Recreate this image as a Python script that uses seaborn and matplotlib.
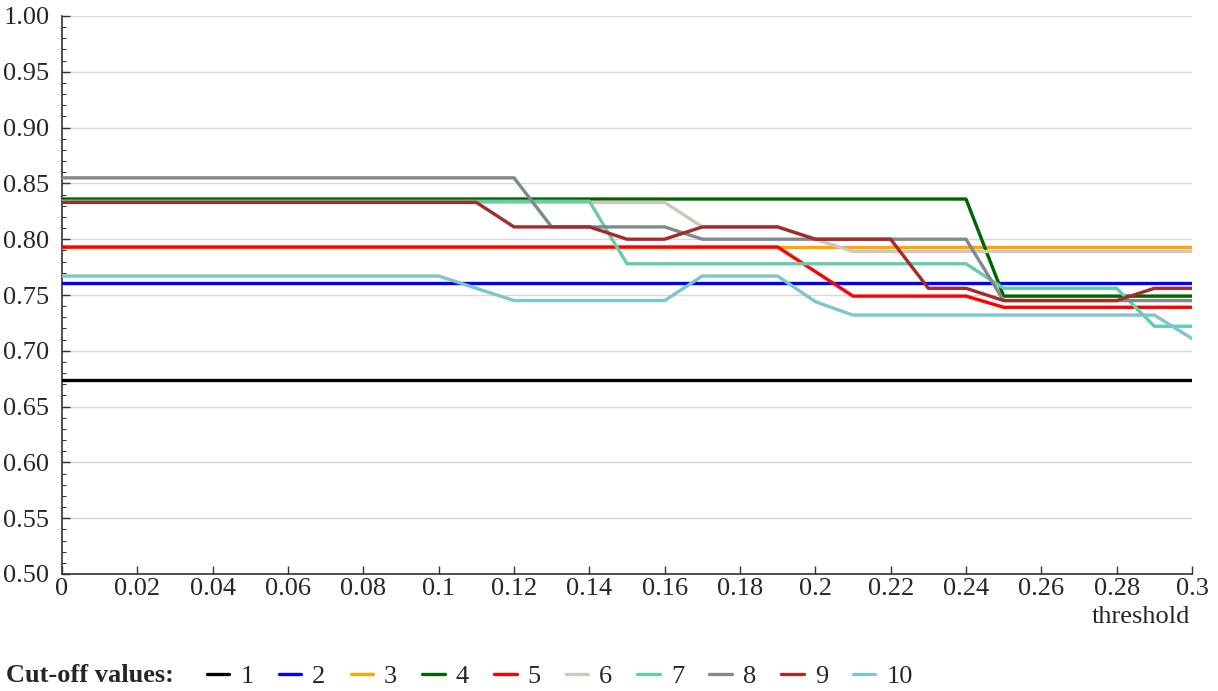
import matplotlib
matplotlib.use("Agg")
import matplotlib.pyplot as plt
import seaborn as sns
import pandas as pd
from matplotlib.ticker import MultipleLocator, FuncFormatter
from matplotlib.lines import Line2D

thresholds = [0.00, 0.01, 0.02, 0.03, 0.04, 0.05, 0.06, 0.07, 0.08, 0.09,
              0.10, 0.11, 0.12, 0.13, 0.14, 0.15, 0.16, 0.17, 0.18, 0.19,
              0.20, 0.21, 0.22, 0.23, 0.24, 0.25, 0.26, 0.27, 0.28, 0.29, 0.30]

cut1 = [0.674, 0.674, 0.674, 0.674, 0.674, 0.674, 0.674, 0.674, 0.674, 0.674,
        0.674, 0.674, 0.674, 0.674, 0.674, 0.674, 0.674, 0.674, 0.674, 0.674,
        0.674, 0.674, 0.674, 0.674, 0.674, 0.674, 0.674, 0.674, 0.674, 0.674, 0.674]
cut2 = [0.761, 0.761, 0.761, 0.761, 0.761, 0.761, 0.761, 0.761, 0.761, 0.761,
        0.761, 0.761, 0.761, 0.761, 0.761, 0.761, 0.761, 0.761, 0.761, 0.761,
        0.761, 0.761, 0.761, 0.761, 0.761, 0.761, 0.761, 0.761, 0.761, 0.761, 0.761]
cut3 = [0.793, 0.793, 0.793, 0.793, 0.793, 0.793, 0.793, 0.793, 0.793, 0.793,
        0.793, 0.793, 0.793, 0.793, 0.793, 0.793, 0.793, 0.793, 0.793, 0.793,
        0.793, 0.793, 0.793, 0.793, 0.793, 0.793, 0.793, 0.793, 0.793, 0.793, 0.793]
cut4 = [0.836, 0.836, 0.836, 0.836, 0.836, 0.836, 0.836, 0.836, 0.836, 0.836,
        0.836, 0.836, 0.836, 0.836, 0.836, 0.836, 0.836, 0.836, 0.836, 0.836,
        0.836, 0.836, 0.836, 0.836, 0.836, 0.749, 0.749, 0.749, 0.749, 0.749, 0.749]
cut5 = [0.793, 0.793, 0.793, 0.793, 0.793, 0.793, 0.793, 0.793, 0.793, 0.793,
        0.793, 0.793, 0.793, 0.793, 0.793, 0.793, 0.793, 0.793, 0.793, 0.793,
        0.771, 0.749, 0.749, 0.749, 0.749, 0.739, 0.739, 0.739, 0.739, 0.739, 0.739]
cut6 = [0.833, 0.833, 0.833, 0.833, 0.833, 0.833, 0.833, 0.833, 0.833, 0.833,
        0.833, 0.833, 0.833, 0.833, 0.833, 0.833, 0.833, 0.811, 0.811, 0.811,
        0.800, 0.789, 0.789, 0.789, 0.789, 0.789, 0.789, 0.789, 0.789, 0.789, 0.789]
cut7 = [0.834, 0.834, 0.834, 0.834, 0.834, 0.834, 0.834, 0.834, 0.834, 0.834,
        0.834, 0.834, 0.834, 0.834, 0.834, 0.778, 0.778, 0.778, 0.778, 0.778,
        0.778, 0.778, 0.778, 0.778, 0.778, 0.756, 0.756, 0.756, 0.756, 0.722, 0.722]
cut8 = [0.855, 0.855, 0.855, 0.855, 0.855, 0.855, 0.855, 0.855, 0.855, 0.855,
        0.855, 0.855, 0.855, 0.811, 0.811, 0.811, 0.811, 0.800, 0.800, 0.800,
        0.800, 0.800, 0.800, 0.800, 0.800, 0.745, 0.745, 0.745, 0.745, 0.745, 0.745]
cut9 = [0.833, 0.833, 0.833, 0.833, 0.833, 0.833, 0.833, 0.833, 0.833, 0.833,
        0.833, 0.833, 0.811, 0.811, 0.811, 0.800, 0.800, 0.811, 0.811, 0.811,
        0.800, 0.800, 0.800, 0.756, 0.756, 0.745, 0.745, 0.745, 0.745, 0.756, 0.756]
cut10 = [0.767, 0.767, 0.767, 0.767, 0.767, 0.767, 0.767, 0.767, 0.767, 0.767,
         0.767, 0.756, 0.745, 0.745, 0.745, 0.745, 0.745, 0.767, 0.767, 0.767,
         0.744, 0.732, 0.732, 0.732, 0.732, 0.732, 0.732, 0.732, 0.732, 0.732, 0.711]

labels = ["1", "2", "3", "4", "5", "6", "7", "8", "9", "10"]
series = [cut1, cut2, cut3, cut4, cut5, cut6, cut7, cut8, cut9, cut10]
colors = ["#000000", "#0000ff", "#ffa500", "#006400", "#ff0000",
          "#d2c5b9", "#66cdaa", "#808a8a", "#a52a2a", "#7ec6cf"]

rows = []
for lab, vals in zip(labels, series):
    for t, v in zip(thresholds, vals):
        rows.append({"threshold": t, "value": v, "cut": lab})
df = pd.DataFrame(rows)

sns.set_theme(style="white")
plt.rcParams["font.family"] = ["Liberation Serif", "DejaVu Serif"]
FS = 19

fig = plt.figure(figsize=(12.18, 6.91), dpi=100)
ax = fig.add_axes([62/1218, 1 - 574/691, (1192 - 62)/1218, (574 - 16)/691])

sns.lineplot(data=df, x="threshold", y="value", hue="cut", hue_order=labels,
             palette=dict(zip(labels, colors)), linewidth=2.4, ax=ax,
             legend=False, estimator=None, zorder=3)

ax.set_xlim(0, 0.3)
ax.set_ylim(0.5, 1.0)
ax.yaxis.set_major_locator(MultipleLocator(0.05))
ax.yaxis.set_minor_locator(MultipleLocator(0.01))
ax.xaxis.set_major_locator(MultipleLocator(0.02))
ax.yaxis.set_major_formatter(FuncFormatter(lambda v, p: f"{v:.2f}"))
ax.xaxis.set_major_formatter(FuncFormatter(lambda v, p: f"{round(v, 2):g}"))
ax.grid(axis="y", which="major", color="#d9d9d9", linewidth=1.0, zorder=0)
ax.grid(axis="x", visible=False)
for s in ["top", "right"]:
    ax.spines[s].set_visible(False)
for s in ["left", "bottom"]:
    ax.spines[s].set_color("#333333")
    ax.spines[s].set_linewidth(1.2)
ax.tick_params(axis="y", which="major", direction="in", length=6, width=1,
               color="#333333", labelsize=FS, pad=9)
ax.tick_params(axis="x", which="major", direction="in", length=6, width=1,
               color="#333333", labelsize=FS, pad=3)
ax.tick_params(axis="y", which="minor", direction="in", length=3, width=0.8,
               color="#333333", left=True)
ax.tick_params(axis="x", which="both", bottom=True)
ax.tick_params(axis="y", which="both", left=True)
ax.set_xlabel("")
ax.set_ylabel("")
fig.text(1190/1218, 1 - 617/691, "threshold", ha="right", va="center", fontsize=FS)

fig.text(6/1218, 1 - 676/691, "Cut-off values:", ha="left", va="center",
         fontsize=FS, fontweight="bold")
handles = [Line2D([0], [0], color=c, linewidth=2.4) for c in colors]
fig.legend(handles, labels, loc="center left", bbox_to_anchor=(207/1218, 1 - 676/691),
           ncol=10, frameon=False, fontsize=FS, handlelength=0.85, handletextpad=0.42,
           columnspacing=0.95, borderaxespad=0, borderpad=0)

fig.savefig("out.png", dpi=100)
